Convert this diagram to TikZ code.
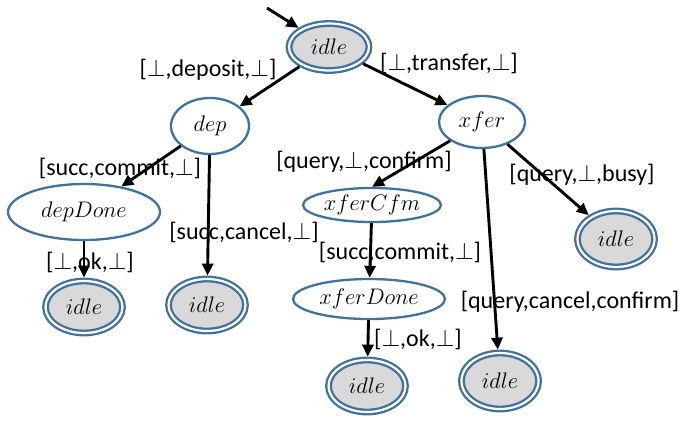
\RequirePackage{fix-cm}
\documentclass[tikz,border=0pt]{standalone}
\usepackage{fontspec}
\setmainfont{Carlito}
\usetikzlibrary{arrows.meta,shapes.geometric}
\definecolor{stateblue}{HTML}{41719C}
\definecolor{idlegray}{HTML}{D9D9D9}
\tikzset{
  plainstate/.style={ellipse, draw=stateblue, line width=2.3pt, fill=white,
    inner sep=0pt, font=\fontsize{22.5}{26}\selectfont},
  idlestate/.style={plainstate, fill=idlegray, double=white,
    double distance=2.2pt, outer sep=3.4pt,
    minimum width=77pt, minimum height=#1},
  idlestate/.default=52pt,
  move/.style={line width=2.9pt, black, -{Triangle[length=12pt,width=11pt]}},
  guard/.style={font=\fontsize{24}{28}\selectfont, inner sep=0pt}
}

\begin{document}
\begin{tikzpicture}[x=1pt, y=-1pt]

\useasboundingbox (0,0) rectangle (685,421);

%--- States ---

\node[idlestate=47pt, minimum width=80pt] (root) at (329,47) {$idle$};

\node[plainstate, minimum width=78pt,  minimum height=56pt] (dep)      at (210,126) {$dep$};
\node[plainstate, minimum width=86pt,  minimum height=52pt] (xfer)     at (482,122) {$xfer$};
\node[plainstate, minimum width=152pt, minimum height=56pt] (depDone)  at (84,212)  {$depDone$};
\node[plainstate, minimum width=138pt, minimum height=34pt] (xferCfm)  at (372,205) {$xferCfm$};
\node[plainstate, minimum width=152pt, minimum height=40pt] (xferDone) at (369,299) {$xferDone$};

% terminal idle states
\node[idlestate]      (idleDepOk)    at (84,307)  {$idle$};
\node[idlestate]      (idleDepCncl)  at (207,305) {$idle$};
\node[idlestate]      (idleXferOk)   at (367,386) {$idle$};
\node[idlestate=56pt] (idleXferCncl) at (500,381) {$idle$};
\node[idlestate=56pt] (idleBusy)     at (616,239) {$idle$};

%--- Transitions ---

\coordinate (entry) at (267,8);
\draw[move] (entry) -- (root);

\draw[move] (root)     -- (dep);
\draw[move] (root)     -- (xfer);
\draw[move] (dep)      -- (depDone);
\draw[move] (dep)      -- (idleDepCncl);
\draw[move] (depDone)  -- (idleDepOk);
\draw[move] (xfer)     -- (xferCfm.north);
\draw[move] (xfer)     -- (idleXferCncl);
\draw[move] (xfer)     -- (idleBusy);
\draw[move] (xferCfm)  -- (xferDone);
\draw[move] (xferDone) -- (idleXferOk);

%--- Guards ---

\node[guard] (gDeposit)   at (208,70)  {[$\perp$,deposit,$\perp$]};
\node[guard] (gTransfer)  at (449,63)  {[$\perp$,transfer,$\perp$]};
\node[guard] (gDepCommit) at (120,168) {[succ,commit,$\perp$]};
\node[guard] (gDepCancel) at (244,232) {[succ,cancel,$\perp$]};
\node[guard] (gDepOk)     at (90,262)  {[$\perp$,ok,$\perp$]};
\node[guard] (gConfirm)   at (364,162) {[query,$\perp$,confirm]};
\node[guard] (gBusy)      at (582,175) {[query,$\perp$,busy]};
\node[guard] (gXferCommit) at (400,252) {[succ,commit,$\perp$]};
\node[guard] (gXferCancel) at (570,302) {[query,cancel,confirm]};
\node[guard] (gXferOk)    at (418,339) {[$\perp$,ok,$\perp$]};

\end{tikzpicture}
\end{document}
